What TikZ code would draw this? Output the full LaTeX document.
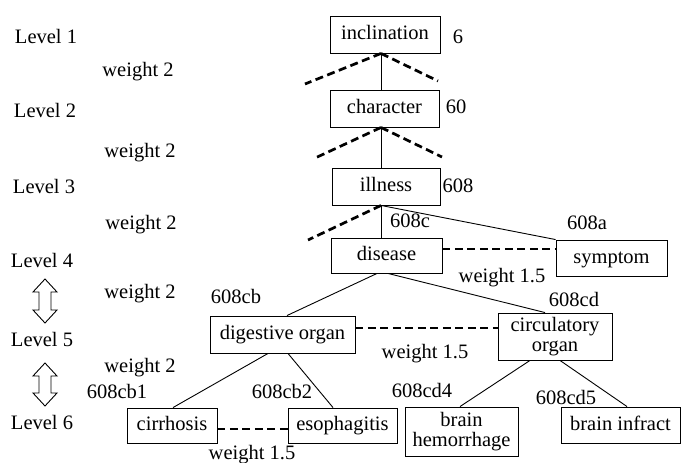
\documentclass[tikz,border=0pt]{standalone}
\usepackage{fontspec}
\setmainfont{LiberationSerif}[Extension=.ttf,UprightFont=*-Regular,BoldFont=*-Bold,ItalicFont=*-Italic,BoldItalicFont=*-BoldItalic]
\begin{document}
\begin{tikzpicture}[x=1pt,y=-1pt,
  every node/.style={font=\rmfamily\fontsize{20.5}{20}\selectfont, inner sep=0pt},
  box/.style={draw, line width=0.9pt, text height=14pt, text depth=4pt},
  boxtwo/.style={draw, line width=0.9pt, align=center},
  lbl/.style={anchor=base},
  conn/.style={line width=0.9pt},
  dsh/.style={line width=2.7pt, dash pattern=on 8pt off 4.5pt},
  dblarrow/.style={line width=0.9pt, line join=miter}]
\useasboundingbox (0,0) rectangle (681,463);

% boxes
\node[box, minimum width=110pt, minimum height=37pt] (inc) at (385,34.5) {inclination};
\node[box, minimum width=109pt, minimum height=37pt] (chr) at (384.5,108.5) {character};
\node[box, minimum width=108pt, minimum height=37pt] (ill) at (386,186.5) {illness};
\node[box, minimum width=111pt, minimum height=35pt] (dis) at (386.5,255.5) {disease};
\node[box, minimum width=111pt, minimum height=36pt] (sym) at (611.5,258) {symptom};
\node[box, minimum width=145pt, minimum height=37pt] (dig) at (282.5,334.5) {digestive organ};
\node[boxtwo, minimum width=114pt, minimum height=47pt] (cir) at (555,336.5) {circulatory\\organ};
\node[box, minimum width=90pt, minimum height=35pt] (crr) at (172,425.5) {cirrhosis};
\node[box, minimum width=109pt, minimum height=35pt] (eso) at (342.5,425.5) {esophagitis};
\node[boxtwo, minimum width=113pt, minimum height=49pt] (hem) at (461.5,431.5) {brain\\hemorrhage};
\node[box, minimum width=119pt, minimum height=36pt] (inf) at (620.5,425) {brain infract};

% level labels
\node[lbl] (l1) at (46,43) {Level 1};
\node[lbl] (l2) at (45,117) {Level 2};
\node[lbl] (l3) at (44,193) {Level 3};
\node[lbl] (l4) at (42,267) {Level 4};
\node[lbl] (l5) at (42,346) {Level 5};
\node[lbl] (l6) at (42,429) {Level 6};

% weight labels
\node[lbl] (w1) at (138,76) {weight 2};
\node[lbl] (w2) at (140,157) {weight 2};
\node[lbl] (w3) at (141,229) {weight 2};
\node[lbl] (w4) at (140,298) {weight 2};
\node[lbl] (w5) at (140,372) {weight 2};
\node[lbl] (wa) at (502,282) {weight 1.5};
\node[lbl] (wb) at (425,358) {weight 1.5};
\node[lbl] (wc) at (252,459) {weight 1.5};

% codes
\node[lbl] (c1) at (458,43) {6};
\node[lbl] (c2) at (456,113) {60};
\node[lbl] (c3) at (458,192) {608};
\node[lbl] (c4) at (410,227) {608c};
\node[lbl] (c5) at (587,229) {608a};
\node[lbl] (c6) at (574,306) {608cd};
\node[lbl] (c7) at (236,303) {608cb};
\node[lbl] (c8) at (422,397) {608cd4};
\node[lbl] (c9) at (566,404) {608cd5};
\node[lbl] (c10) at (117,398) {608cb1};
\node[lbl] (c11) at (282,398) {608cb2};

% free ends of dashed lines
\coordinate (d1l) at (305,84);
\coordinate (d1r) at (438,81);
\coordinate (d2l) at (313,159);
\coordinate (d2r) at (442,157);
\coordinate (d3l) at (308,240);

% solid connectors
\draw[conn] ([xshift=-4pt]inc.south) -- ([xshift=-3.5pt]chr.north);
\draw[conn] ([xshift=-3.5pt]chr.south) -- ([xshift=-5pt]ill.north);
\draw[conn] ([xshift=-5pt]ill.south) -- ([xshift=-5.5pt]dis.north);
\draw[conn] ([xshift=-5pt]ill.south) -- (sym.north west);
\draw[conn] ([xshift=-9.5pt]dis.south) -- ([xshift=4.5pt]dig.north);
\draw[conn] ([xshift=1.5pt]dis.south) -- ([xshift=-10pt]cir.north);
\draw[conn] ([xshift=-14.5pt]dig.south) -- ([xshift=1pt]crr.north);
\draw[conn] ([xshift=5.5pt]dig.south) -- ([xshift=-9.5pt]eso.north);
\draw[conn] ([xshift=-25pt]cir.south) -- ([xshift=-1.5pt]hem.north);
\draw[conn] ([xshift=5pt]cir.south) -- ([xshift=6.5pt]inf.north);

% dashed connectors
\draw[dsh] ([xshift=-4pt]inc.south) -- (d1l);
\draw[dsh] ([xshift=-4pt]inc.south) -- (d1r);
\draw[dsh] ([xshift=-3.5pt]chr.south) -- (d2l);
\draw[dsh] ([xshift=-3.5pt]chr.south) -- (d2r);
\draw[dsh] ([xshift=-5pt]ill.south) -- (d3l);
\draw[dsh] ([yshift=6.5pt]dis.east) -- ([yshift=6.5pt]dis.east -| sym.west);
\draw[dsh] ([yshift=6.5pt]dig.east) -- ([yshift=6.5pt]dig.east -| cir.west);
\draw[dsh] ([yshift=-3.5pt]crr.east) -- ([yshift=-3.5pt]crr.east -| eso.west);

% hollow double arrows between levels
\draw[dblarrow] (45,279) -- (57,292) -- (51,292) -- (51,310) -- (57,310) -- (45,323)
  -- (33,310) -- (39,310) -- (39,292) -- (33,292) -- cycle;
\draw[dblarrow] (45,363) -- (57,376) -- (51,376) -- (51,393) -- (57,393) -- (45,406)
  -- (33,393) -- (39,393) -- (39,376) -- (33,376) -- cycle;
\end{tikzpicture}
\end{document}
